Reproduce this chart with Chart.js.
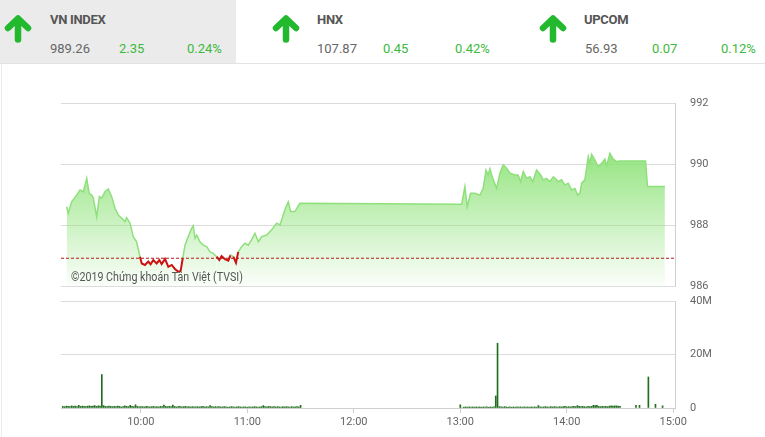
<!DOCTYPE html>
<html>
<head>
<meta charset="utf-8">
<script src="https://cdn.jsdelivr.net/npm/chart.js@4.4.1/dist/chart.umd.min.js"></script>
<style>
  body { margin: 0; width: 765px; height: 437px; overflow: hidden; background: #fff; font-family: Roboto, sans-serif; position: relative; }
  .hdr { position: absolute; left: 0; top: 0; width: 765px; height: 63px; border-bottom: 1px solid #e3e3e3; }
  .sel { position: absolute; left: 0; top: 0; width: 236px; height: 63px; background: #ebebeb; }
  .edge { position: absolute; left: 1px; top: 64px; width: 1px; height: 373px; background: #ececec; }
  .t { position: absolute; font-size: 13px; line-height: 13px; white-space: nowrap; }
  .name { font-weight: 700; color: #555; top: 13px; letter-spacing: -0.3px; }
  .val { color: #666; top: 42px; }
  .up { color: #3cb93c; top: 42px; }
  .arrow { position: absolute; top: 15px; }
  canvas { position: absolute; left: 0; }
</style>
</head>
<body>
<div class="hdr">
  <div class="sel"></div>
  <svg class="arrow" style="left:4px" width="28" height="28" viewBox="0 0 28 28"><path d="M4 13 L14 3.5 L24 13 M14 4 V24.5" fill="none" stroke="#22b92e" stroke-width="6.5" stroke-linecap="round" stroke-linejoin="round"/></svg>
  <span class="t name" style="left:50px">VN INDEX</span>
  <span class="t val" style="left:50px">989.26</span>
  <span class="t up" style="left:119px">2.35</span>
  <span class="t up" style="left:187px">0.24%</span>

  <svg class="arrow" style="left:272px" width="28" height="28" viewBox="0 0 28 28"><path d="M4 13 L14 3.5 L24 13 M14 4 V24.5" fill="none" stroke="#22b92e" stroke-width="6.5" stroke-linecap="round" stroke-linejoin="round"/></svg>
  <span class="t name" style="left:317px">HNX</span>
  <span class="t val" style="left:317px">107.87</span>
  <span class="t up" style="left:383px">0.45</span>
  <span class="t up" style="left:455px">0.42%</span>

  <svg class="arrow" style="left:539px" width="28" height="28" viewBox="0 0 28 28"><path d="M4 13 L14 3.5 L24 13 M14 4 V24.5" fill="none" stroke="#22b92e" stroke-width="6.5" stroke-linecap="round" stroke-linejoin="round"/></svg>
  <span class="t name" style="left:584px">UPCOM</span>
  <span class="t val" style="left:585px">56.93</span>
  <span class="t up" style="left:652px">0.07</span>
  <span class="t up" style="left:721px">0.12%</span>
</div>
<div class="edge"></div>
<canvas id="price" width="765" height="210" style="top:90px"></canvas>
<canvas id="vol" width="765" height="147" style="top:290px"></canvas>
<script>
// reference close (989.26 - 2.35)
const REF = 986.91;

// minutes since midnight
const priceMinutes = [558.2, 559.1, 561.0, 563.8, 565.7, 567.6, 569.5, 570.9, 572.3, 573.2, 575.1, 576.6, 577.9, 579.8, 581.6, 583.6, 585.4, 587.3, 589.2, 591.1,
  592.0, 593.9, 595.7, 597.6, 599.5, 600.5, 602.3, 604.2, 605.5, 607.0, 608.9, 610.4, 611.7, 613.6, 615.5, 617.4, 619.2, 621.1, 622.4, 623.6,
  624.9, 626.7, 628.6, 629.5, 630.5, 631.5, 633.3, 635.2, 637.1, 639.0, 640.8, 642.7, 644.2, 645.5, 647.4, 649.3, 650.6, 652.1, 653.6, 654.9,
  656.8, 658.7, 660.5, 662.4, 664.3, 666.2, 668.1, 670.9, 673.7, 676.5, 678.4, 680.2, 681.8, 683.1, 684.4, 686.8, 689.6,
  780.8, 782.6, 783.9, 785.8, 788.3, 791.1, 792.9, 794.5, 795.7, 796.7, 798.6, 800.5, 802.3, 804.2, 806.1, 808.0, 810.8, 812.6, 814.0, 815.5,
  817.4, 819.2, 820.8, 823.0, 825.3, 826.7, 828.6, 830.5, 832.4, 834.3, 835.2, 837.1, 839.0, 840.8, 842.7, 844.6, 846.1, 847.4, 848.4, 850.2,
  852.1, 853.0, 854.0, 855.9, 857.7, 859.6, 861.5, 862.5, 864.3, 866.2, 868.1, 870.0, 884.4, 885.5, 895.3];
const priceValues = [988.60, 988.39, 988.76, 988.98, 989.15, 989.09, 989.53, 989.04, 988.98, 988.89, 988.27, 988.93, 988.88, 989.09, 989.18, 988.93, 988.55, 988.33, 988.22, 988.11,
  988.24, 988.06, 987.62, 987.45, 986.96, 986.74, 986.69, 986.80, 986.71, 986.85, 986.74, 986.85, 986.72, 986.89, 986.63, 986.69, 986.56, 986.47, 986.49, 986.91,
  987.34, 987.62, 987.89, 987.97, 987.56, 987.67, 987.45, 987.34, 987.29, 987.12, 987.07, 986.96, 986.85, 986.98, 986.88, 986.83, 987.02, 986.96, 986.76, 987.12,
  987.29, 987.40, 987.34, 987.51, 987.73, 987.45, 987.62, 987.67, 987.84, 988.06, 988.00, 988.33, 988.60, 988.76, 988.44, 988.44, 988.71,
  988.68, 989.26, 988.60, 989.04, 989.04, 988.98, 989.20, 989.80, 989.64, 989.84, 989.48, 989.20, 989.70, 989.97, 989.86, 989.70, 989.64, 989.64, 989.42, 989.75,
  989.53, 989.58, 989.42, 989.80, 989.64, 989.48, 989.53, 989.42, 989.58, 989.48, 989.42, 989.48, 989.31, 989.37, 989.15, 989.20, 988.98, 989.04, 989.37, 989.48,
  990.24, 990.02, 990.32, 990.13, 989.91, 990.02, 990.16, 989.94, 990.35, 990.16, 990.08, 990.10, 990.10, 989.26, 989.26];

// volume in millions, one bar per minute
const volAmStart = 556; // 09:16
const volAm = [
  0.6, 0.5, 0.7, 0.6, 0.5, 0.8, 0.6, 0.7, 0.5, 1.0, 0.6, 0.7, 0.6, 0.5, 0.7,
  0.8, 0.6, 0.7, 0.9, 0.6, 0.8, 0.7, 12.5, 0.9, 0.6, 0.5, 0.7, 0.6, 0.5, 0.6,
  0.5, 0.7, 0.6, 0.4, 0.5, 0.8, 0.6, 0.5, 1.0, 0.6, 0.5, 1.2, 0.6, 0.4, 0.5,
  0.5, 0.4, 0.6, 0.5, 0.4, 0.5, 0.6, 0.4, 0.5, 0.4, 0.6, 0.5, 1.1, 0.6, 0.5,
  0.6, 0.5, 1.1, 0.6, 0.4, 0.5, 0.6, 0.4, 0.5, 0.6, 0.4, 0.5, 0.4, 0.5, 0.4,
  0.4, 0.5, 0.4, 0.5, 0.6, 0.4, 0.5, 0.4, 0.9, 0.5, 0.4, 0.5, 0.4, 0.5, 0.4,
  0.4, 0.5, 0.4, 0.3, 0.4, 0.5, 0.4, 0.3, 0.4, 0.5, 0.4, 0.3, 0.4, 0.4, 0.3,
  0.4, 0.3, 0.4, 0.5, 0.4, 0.3, 0.4, 0.5, 0.9, 0.5, 0.4, 0.6, 0.5, 0.4, 0.5,
  0.4, 0.5, 0.4, 0.3, 0.5, 0.4, 0.5, 0.4, 0.3, 0.5, 0.4, 0.4, 0.5, 0.4, 1.0];
const volPmStart = 780; // 13:00
const volPm = [
  1.2, 0, 0.3, 0.4, 0.3, 0.4, 0.3, 0.4, 0.3, 0.4, 0.3, 0.4, 0.3,
  0.4, 0.3, 0.4, 0.3, 0.4, 0.3, 0.4, 4.5, 24.2, 0.5, 0.4, 0.3, 0.5,
  0.4, 0.3, 0.4, 0.3, 0.4, 0.3, 0.4, 0.3, 0.4, 0.3, 0.4, 0.3, 0.4,
  0.3, 0.4, 0.3, 0.4, 0.3, 0.9, 0.4, 0.3, 0.4, 0.5, 0.4, 0.3, 0.5,
  0.4, 0.5, 0.4, 0.3, 0.5, 0.4, 0.5, 0.6, 0.4, 0.5, 0.4, 0.5, 0.6,
  0.5, 0.9, 0.6, 0.5, 0.6, 0.5, 0.4, 0.6, 0.5, 0.6, 1.0, 0.9, 1.0,
  0.6, 0.5, 0.6, 0.5, 0.6, 0.5, 0.7, 0.8, 0.7, 0.8, 0.8, 0.7, 0.6];
const volLateMinutes = [879, 881, 886, 890, 894];
const volLate = [1.0, 1.0, 11.6, 1.4, 0.8];

const hourTicks = [600, 660, 720, 780, 840, 900];
const priceTicks = [986, 988, 990, 992];
const volTicks = [0, 20, 40];

const fmtTime = v => Math.floor(v / 60) + ':' + String(v % 60).padStart(2, '0');
const font = { family: 'Roboto', size: 11 };
const GRID = '#dcdcdc';
const EDGE = '#cfcfcf';
const below = s => s.p0.parsed.y < REF || s.p1.parsed.y < REF;
// right axis: fixed width, no extra label padding above/below the plot
const fitRight = s => { s.width = 90; s.paddingTop = 0; s.paddingBottom = 0; };

const watermark = {
  id: 'watermark',
  afterDatasetsDraw(chart) {
    const { ctx, chartArea: a } = chart;
    ctx.save();
    ctx.translate(a.left + 10, a.bottom - 8.5);
    ctx.scale(0.89, 1); // narrower face, like the original
    ctx.font = '12px Roboto';
    ctx.fillStyle = '#555';
    ctx.textBaseline = 'middle';
    ctx.fillText('©2019 Chứng khoán Tân Việt (TVSI)', 0, 0);
    ctx.restore();
  }
};

new Chart(document.getElementById('price'), {
  type: 'line',
  data: {
    datasets: [
      { data: [{ x: 555, y: REF }, { x: 901, y: REF }], borderColor: '#b41a1a', borderWidth: 1, borderDash: [3, 2], pointRadius: 0, fill: false },
      {
        data: priceMinutes.map((m, i) => ({ x: m, y: priceValues[i] })),
        borderColor: '#8fe07c', borderWidth: 1.5, pointRadius: 0, tension: 0, fill: 'start',
        backgroundColor: c => {
          const a = c.chart.chartArea;
          if (!a) return 'rgba(140,226,118,0.5)';
          const g = c.chart.ctx.createLinearGradient(0, a.top + 45, 0, a.bottom);
          g.addColorStop(0, 'rgba(140,226,118,0.95)');
          g.addColorStop(1, 'rgba(140,226,118,0.04)');
          return g;
        },
        segment: { borderColor: s => below(s) ? '#cc1111' : undefined, borderWidth: s => below(s) ? 2 : undefined }
      }
    ]
  },
  options: {
    responsive: false, animation: false,
    layout: { padding: { left: 61, top: 13, bottom: 14, right: 0 } },
    plugins: { legend: { display: false }, tooltip: { enabled: false } },
    scales: {
      x: { type: 'linear', min: 555, max: 901, display: false },
      y: {
        position: 'right', min: 986, max: 992,
        afterBuildTicks: s => { s.ticks = priceTicks.map(v => ({ value: v })); },
        afterFit: fitRight,
        grid: { color: GRID, drawTicks: false },
        border: { display: true, color: EDGE },
        ticks: { padding: 15, color: '#666', font }
      }
    }
  },
  plugins: [watermark]
});

const volData = [
  ...volAm.map((v, i) => ({ x: volAmStart + i, y: v })),
  ...volPm.map((v, i) => ({ x: volPmStart + i, y: v })),
  ...volLateMinutes.map((m, i) => ({ x: m, y: volLate[i] }))
];

new Chart(document.getElementById('vol'), {
  type: 'bar',
  data: { datasets: [{ data: volData, backgroundColor: '#1f6e1f', barThickness: 1, borderWidth: 0 }] },
  options: {
    responsive: false, animation: false,
    layout: { padding: { left: 61, top: 11, right: 0, bottom: 0 } },
    plugins: { legend: { display: false }, tooltip: { enabled: false } },
    scales: {
      x: {
        type: 'linear', min: 555, max: 901, offset: false,
        afterBuildTicks: s => { s.ticks = hourTicks.map(v => ({ value: v })); },
        afterFit: s => { s.height = 29; },
        grid: { display: true, drawOnChartArea: false, drawTicks: true, tickLength: 5, color: EDGE, offset: false },
        border: { color: EDGE },
        ticks: { color: '#666', font, padding: 3, maxRotation: 0, callback: v => fmtTime(v) }
      },
      y: {
        position: 'right', min: 0, max: 40,
        afterBuildTicks: s => { s.ticks = volTicks.map(v => ({ value: v })); },
        afterFit: fitRight,
        grid: { color: GRID, drawTicks: false },
        border: { display: true, color: EDGE },
        ticks: { padding: 15, color: '#666', font, callback: v => v === 0 ? '0' : v + 'M' }
      }
    }
  }
});
</script>
</body>
</html>
